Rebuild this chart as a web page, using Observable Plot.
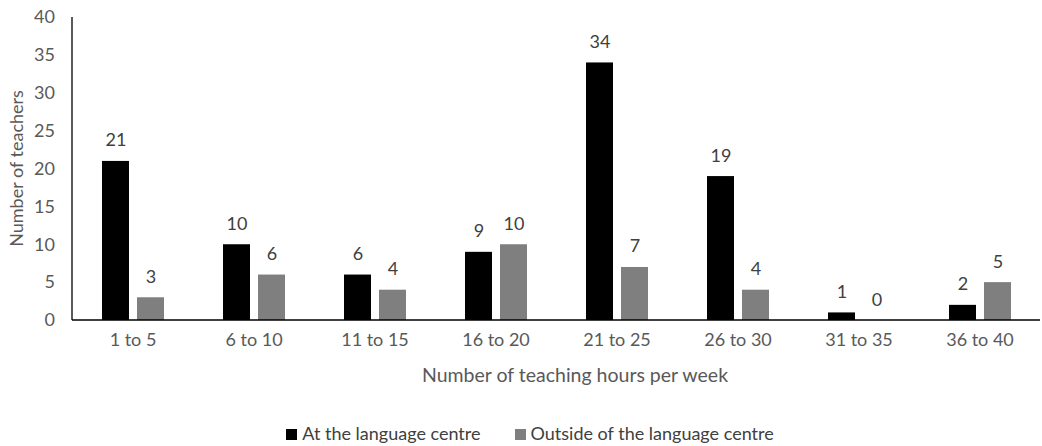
<!DOCTYPE html>
<html>
<head>
<meta charset="utf-8">
<script src="https://cdn.jsdelivr.net/npm/d3@7"></script>
<script src="https://cdn.jsdelivr.net/npm/@observablehq/plot@0.6"></script>
<style>
  body { margin: 0; background: #fff; font-family: Lato, "Open Sans", sans-serif; }
  #chart svg { display: block; }
  .legend { display: flex; justify-content: center; gap: 34px; font-size: 18px; color: #404040; margin-top: 26px; margin-left: 18px; }
  .legend span.sw { display: inline-block; width: 11px; height: 11px; margin-right: 5px; vertical-align: 0px; }
</style>
</head>
<body>
<div id="chart"></div>
<div class="legend">
  <div><span class="sw" style="background:#000"></span>At the language centre</div>
  <div><span class="sw" style="background:#7f7f7f"></span>Outside of the language centre</div>
</div>
<script>
const categories = ["1 to 5", "6 to 10", "11 to 15", "16 to 20", "21 to 25", "26 to 30", "31 to 35", "36 to 40"];
const seriesNames = ["At the language centre", "Outside of the language centre"];
const atCentre = [21, 10, 6, 9, 34, 19, 1, 2];
const outsideCentre = [3, 6, 4, 10, 7, 4, 0, 5];
const colors = ["#000000", "#7f7f7f"];
const yTicks = [0, 5, 10, 15, 20, 25, 30, 35, 40];

const data = [];
categories.forEach((c, i) => {
  data.push({cat: c, series: seriesNames[0], value: atCentre[i]});
  data.push({cat: c, series: seriesNames[1], value: outsideCentre[i]});
});

const FS = 18;
const chart = Plot.plot({
  width: 1042,
  height: 396,
  marginLeft: 72,
  marginRight: 2,
  marginTop: 17,
  marginBottom: 76,
  style: {fontFamily: "Lato, 'Open Sans', sans-serif", fontSize: FS + "px", color: "#595959", background: "#fff"},
  fx: {domain: categories, paddingInner: 0.49, paddingOuter: 0.245, label: null, axis: null},
  x: {domain: seriesNames, paddingInner: 0.23, paddingOuter: 0, axis: null},
  y: {domain: [0, 40], label: null, axis: null},
  color: {domain: seriesNames, range: colors},
  marks: [
    Plot.barY(data, {fx: "cat", x: "series", y: "value", fill: "series"}),
    Plot.text(data, {fx: "cat", x: "series", y: "value", text: d => String(d.value), lineAnchor: "bottom", dy: -15, fill: "#404040", fontSize: FS})
  ]
});

const svg = d3.select(chart);
const yS = chart.scale("y");
const fxS = chart.scale("fx");
const y0 = yS.apply(0), y40 = yS.apply(40);
const left = 72, right = 1040;
// axis lines drawn from the plot's own scales
svg.append("line").attr("x1", left).attr("x2", right).attr("y1", y0).attr("y2", y0).attr("stroke", "#000").attr("stroke-width", 1.3);
svg.append("line").attr("x1", left).attr("x2", left).attr("y1", y40).attr("y2", y0).attr("stroke", "#000").attr("stroke-width", 1.3);
// y tick labels
svg.append("g").selectAll("text").data(yTicks).join("text")
  .attr("x", left - 17)
  .attr("y", d => yS.apply(d))
  .attr("dy", "0.35em")
  .attr("text-anchor", "end")
  .attr("fill", "#595959")
  .attr("font-size", FS)
  .text(d => d);
// category tick labels
svg.append("g").selectAll("text").data(categories).join("text")
  .attr("x", d => fxS.apply(d) + fxS.bandwidth / 2)
  .attr("y", y0 + 20)
  .attr("dy", "0.35em")
  .attr("text-anchor", "middle")
  .attr("fill", "#595959")
  .attr("font-size", FS)
  .text(d => d);
svg.append("text")
  .attr("x", 575)
  .attr("y", 382)
  .attr("text-anchor", "middle")
  .attr("fill", "#595959")
  .attr("font-size", 19.5)
  .text("Number of teaching hours per week");
svg.append("text")
  .attr("transform", `translate(23, ${(y40 + y0) / 2}) rotate(-90)`)
  .attr("text-anchor", "middle")
  .attr("fill", "#595959")
  .attr("font-size", FS)
  .text("Number of teachers");

document.getElementById("chart").appendChild(chart);
</script>
</body>
</html>
